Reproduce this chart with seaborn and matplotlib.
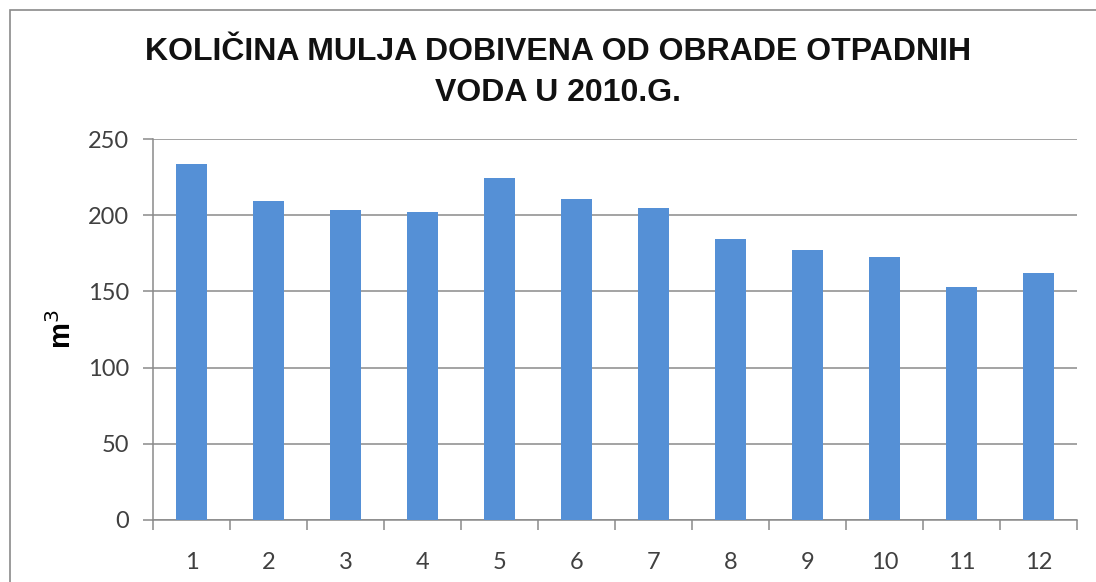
import matplotlib
matplotlib.use("Agg")
import matplotlib.pyplot as plt
import seaborn as sns
import pandas as pd
import numpy as np
from matplotlib.patches import Rectangle

months = ["1", "2", "3", "4", "5", "6", "7", "8", "9", "10", "11", "12"]
values = [233.4, 209, 203.7, 202, 224.7, 210.7, 204.5, 184.6, 177, 172.8, 152.6, 161.8]
yticks = [0, 50, 100, 150, 200, 250]
title = "KOLIČINA MULJA DOBIVENA OD OBRADE OTPADNIH\nVODA U 2010.G."

df = pd.DataFrame({"month": months, "value": values})

sns.set_theme(style="white")
plt.rcParams['font.family'] = ['Liberation Sans', 'DejaVu Sans']

fig = plt.figure(figsize=(10.96, 5.82), dpi=100)
ax = fig.add_axes([153/1096, 1-520/582, (1077-153)/1096, (520-139)/582])

sns.barplot(data=df, x="month", y="value", color="#5590D6", width=0.41,
            saturation=1, ax=ax, zorder=3, edgecolor="#5590D6", linewidth=0)

ax.set_ylim(0, 250)
ax.set_xlim(-0.5, len(months) - 0.5)
ax.set_yticks(yticks)
ax.yaxis.grid(True, color="#8a8a8a", linewidth=1.1, zorder=0)
ax.set_axisbelow(True)

for s in ["top", "right"]:
    ax.spines[s].set_visible(False)
for s in ["left", "bottom"]:
    ax.spines[s].set_color("#8a8a8a")
    ax.spines[s].set_linewidth(1.1)

ax.tick_params(axis="y", which="major", left=True, length=7.2, width=1.1, color="#8a8a8a",
               labelsize=17, labelcolor="#404040", pad=10)
ax.tick_params(axis="x", which="major", bottom=False, labelsize=17, labelcolor="#404040", pad=17)
ax.set_xticks(np.arange(-0.5, len(months), 1.0), minor=True)
ax.tick_params(axis="x", which="minor", bottom=True, length=7.2, width=1.1, color="#8a8a8a")
for lbl in ax.get_xticklabels() + ax.get_yticklabels():
    lbl.set_family(['Lato', 'DejaVu Sans'])

ax.set_xlabel("")
ax.set_ylabel("m$^3$", fontsize=21, fontweight="bold", color="#000000")
ax.yaxis.set_label_coords((77 - 153) / 924, 0.5)

fig.text(0.509, 1-72.5/582, title, ha="center", va="center", fontsize=23,
         fontweight="bold", color="#111111", linespacing=1.45)

fig.patches.append(Rectangle((10/1096, -0.1), 1.2, 1-10/582+0.1, transform=fig.transFigure,
                             fill=False, edgecolor="#8a8a8a", linewidth=1.2))

fig.savefig("out.png", dpi=100)
